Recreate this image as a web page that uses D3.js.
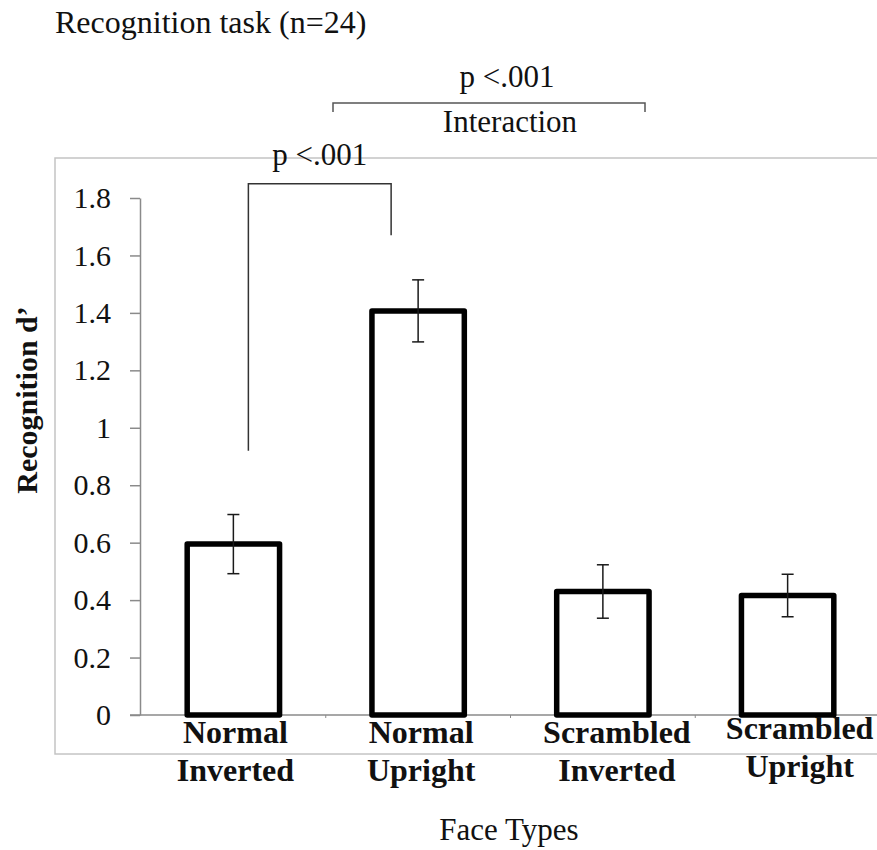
<!DOCTYPE html>
<html>
<head>
<meta charset="utf-8">
<script src="https://cdn.jsdelivr.net/npm/d3@7"></script>
<style>
  body { margin: 0; background: #fff; }
  text { font-family: "Liberation Serif", "Times New Roman", serif; fill: #111; }
</style>
</head>
<body>
<svg></svg>
<script>
var categories = [["Normal", "Inverted"], ["Normal", "Upright"], ["Scrambled", "Inverted"], ["Scrambled", "Upright"]];
var means = [0.595, 1.407, 0.430, 0.416];
var errors = [0.103, 0.108, 0.093, 0.074];
var yTicks = [0, 0.2, 0.4, 0.6, 0.8, 1, 1.2, 1.4, 1.6, 1.8];

var W = 877, H = 850;
var svg = d3.select("svg").attr("width", W).attr("height", H);

var keys = categories.map(function(c) { return c.join(" "); });

var x = d3.scaleBand()
    .domain(keys)
    .range([141, 880])
    .paddingInner(0.5)
    .paddingOuter(0.25);

var y = d3.scaleLinear()
    .domain([0, 1.8])
    .range([715, 198]);

// outer frame
svg.append("rect")
    .attr("x", 55).attr("y", 158)
    .attr("width", 900).attr("height", 596)
    .attr("fill", "none")
    .attr("stroke", "#c4c4c4")
    .attr("stroke-width", 1.5);

// title
svg.append("text")
    .attr("x", 55).attr("y", 33)
    .style("font-size", "32px")
    .text("Recognition task (n=24)");

// y axis
var yAxis = svg.append("g")
    .attr("transform", "translate(140,0)")
    .call(d3.axisLeft(y)
        .tickValues(yTicks)
        .tickFormat(function(d) { return String(+d.toFixed(1)); })
        .tickSize(10)
        .tickSizeOuter(0)
        .tickPadding(19));
yAxis.select(".domain").attr("stroke", "#8a8a8a").attr("stroke-width", 1.5);
yAxis.selectAll(".tick line").attr("stroke", "#8a8a8a").attr("stroke-width", 1.5);
yAxis.selectAll(".tick text")
    .style("font-family", "'Liberation Serif', 'Times New Roman', serif")
    .style("font-size", "30px")
    .attr("fill", "#111");

// x baseline
svg.append("line")
    .attr("x1", 130).attr("x2", 877)
    .attr("y1", y(0)).attr("y2", y(0))
    .attr("stroke", "#8a8a8a")
    .attr("stroke-width", 1.5);

// tiny separators between categories
svg.append("g")
    .selectAll("line")
    .data(keys.slice(1))
    .enter().append("line")
    .attr("x1", function(d) { return x(d) - x.step() * x.paddingInner() / 2; })
    .attr("x2", function(d) { return x(d) - x.step() * x.paddingInner() / 2; })
    .attr("y1", y(0)).attr("y2", y(0) + 3)
    .attr("stroke", "#8a8a8a")
    .attr("stroke-width", 1);

// bars
svg.append("g")
    .selectAll("rect")
    .data(keys)
    .enter().append("rect")
    .attr("x", function(d) { return x(d); })
    .attr("width", x.bandwidth())
    .attr("y", function(d, i) { return y(means[i]); })
    .attr("height", function(d, i) { return y(0) - y(means[i]); })
    .attr("fill", "#fff")
    .attr("stroke", "#000")
    .attr("stroke-width", 5.5)
    .attr("stroke-linejoin", "round");

// error bars
var eb = svg.append("g")
    .selectAll("g")
    .data(keys)
    .enter().append("g")
    .attr("stroke", "#1a1a1a")
    .attr("stroke-width", 1.5);

eb.append("line")
    .attr("x1", function(d) { return x(d) + x.bandwidth() / 2; })
    .attr("x2", function(d) { return x(d) + x.bandwidth() / 2; })
    .attr("y1", function(d, i) { return y(means[i] + errors[i]); })
    .attr("y2", function(d, i) { return y(means[i] - errors[i]); });

eb.selectAll("line.cap")
    .data(function(d, i) { return [[d, means[i] + errors[i]], [d, means[i] - errors[i]]]; })
    .enter().append("line")
    .attr("class", "cap")
    .attr("x1", function(d) { return x(d[0]) + x.bandwidth() / 2 - 6; })
    .attr("x2", function(d) { return x(d[0]) + x.bandwidth() / 2 + 6; })
    .attr("y1", function(d) { return y(d[1]); })
    .attr("y2", function(d) { return y(d[1]); });

// category labels (two lines, bold)
var labelShift = [2, 3, 14, 12];
var labelLift = [0, 0, 0, -4];
var lab = svg.append("g")
    .selectAll("text")
    .data(categories)
    .enter().append("text")
    .attr("text-anchor", "middle")
    .style("font-size", "32px")
    .style("font-weight", "bold");

lab.append("tspan")
    .attr("x", function(d, i) { return x(keys[i]) + x.bandwidth() / 2 + labelShift[i]; })
    .attr("y", function(d, i) { return 743 + labelLift[i]; })
    .text(function(d) { return d[0]; });

lab.append("tspan")
    .attr("x", function(d, i) { return x(keys[i]) + x.bandwidth() / 2 + labelShift[i]; })
    .attr("y", function(d, i) { return 781 + labelLift[i]; })
    .text(function(d) { return d[1]; });

// axis titles
svg.append("text")
    .attr("x", 509).attr("y", 840)
    .attr("text-anchor", "middle")
    .style("font-size", "31px")
    .text("Face Types");

svg.append("text")
    .attr("transform", "translate(37,400) rotate(-90)")
    .attr("text-anchor", "middle")
    .style("font-size", "30px")
    .style("font-weight", "bold")
    .text("Recognition d\u2019");

// significance bracket: Normal Inverted vs Normal Upright
var c0 = x(keys[0]) + x.bandwidth() / 2;
var c1 = x(keys[1]) + x.bandwidth() / 2;
svg.append("path")
    .attr("d", "M" + (c0 + 15) + "," + y(0.92) +
               "V" + y(1.85) +
               "H" + (c1 - 27) +
               "V" + y(1.67))
    .attr("fill", "none")
    .attr("stroke", "#333")
    .attr("stroke-width", 1.5);

svg.append("text")
    .attr("x", (c0 + c1) / 2 - 6).attr("y", 165)
    .attr("text-anchor", "middle")
    .style("font-size", "31px")
    .text("p <.001");

// interaction bracket
svg.append("path")
    .attr("d", "M333,112V103H645V112")
    .attr("fill", "none")
    .attr("stroke", "#555")
    .attr("stroke-width", 1.5);

svg.append("text")
    .attr("x", 507).attr("y", 87)
    .attr("text-anchor", "middle")
    .style("font-size", "31px")
    .text("p <.001");

svg.append("text")
    .attr("x", 510).attr("y", 132)
    .attr("text-anchor", "middle")
    .style("font-size", "31px")
    .text("Interaction");
</script>
</body>
</html>
